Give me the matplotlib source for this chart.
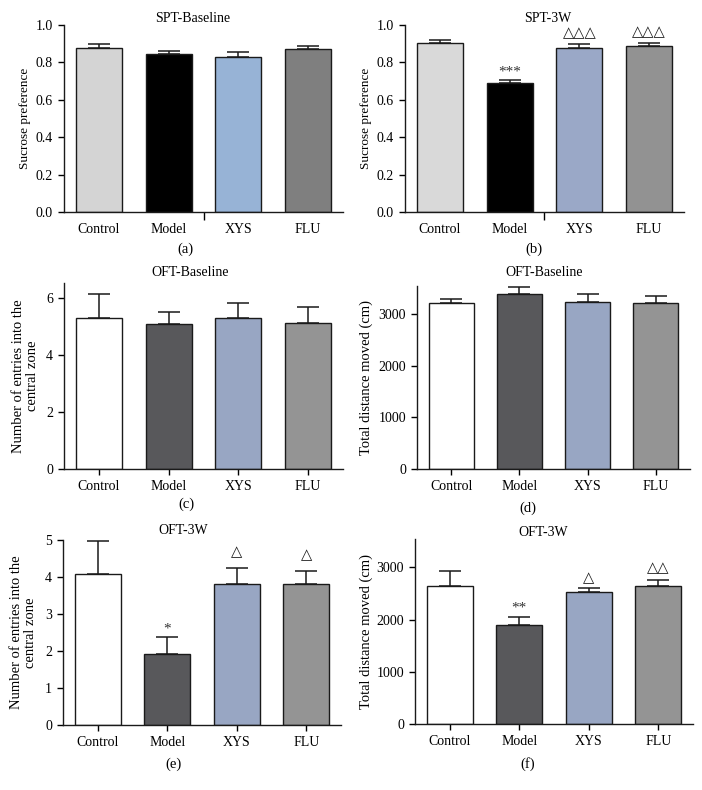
import matplotlib
matplotlib.use("Agg")
import matplotlib.pyplot as plt

plt.rcParams['font.family'] = ['Liberation Serif', 'DejaVu Sans']

W, H = 702, 790

groups = ["Control", "Model", "XYS", "FLU"]

# panel a
spt_base_mean = [0.876, 0.843, 0.831, 0.870]
spt_base_err = [0.021, 0.018, 0.023, 0.016]
# panel b
spt_3w_mean = [0.904, 0.692, 0.879, 0.890]
spt_3w_err = [0.014, 0.016, 0.018, 0.014]
spt_3w_marks = ["", "***", "△△△", "△△△"]
# panel c
oft_base_entries_mean = [5.31, 5.09, 5.31, 5.14]
oft_base_entries_err = [0.84, 0.43, 0.53, 0.53]
# panel d
oft_base_dist_mean = [3226, 3394, 3245, 3226]
oft_base_dist_err = [78, 129, 142, 135]
# panel e
oft_3w_entries_mean = [4.07, 1.93, 3.80, 3.80]
oft_3w_entries_err = [0.91, 0.46, 0.45, 0.37]
oft_3w_entries_marks = ["", "*", "△", "△"]
# panel f
oft_3w_dist_mean = [2649, 1889, 2521, 2636]
oft_3w_dist_err = [274, 154, 77, 115]
oft_3w_dist_marks = ["", "**", "△", "△△"]

colors_a = ["#d4d4d4", "#000000", "#97b3d6", "#7f7f7f"]
colors_b = ["#d9d9d9", "#000000", "#9aa8c7", "#929292"]
colors_c = ["#ffffff", "#58585b", "#98a6c3", "#949494"]

fig = plt.figure(figsize=(W / 100, H / 100), dpi=100)


def add_ax(l, t, r, b):
    return fig.add_axes([l / W, 1 - b / H, (r - l) / W, (b - t) / H])


def panel(rect, means, errs, colors, ylim, yticks, yticklabels, ytick_fs,
          title, title_xy, ylabel, ylabel_px, ylabel_fs, letter, letter_xy,
          marks=None, mark_off=None, stray=False, xticks_on=True):
    ax = add_ax(*rect)
    x = list(range(len(groups)))
    ax.bar(x, means, width=0.66, color=colors, edgecolor="#1a1a1a",
           linewidth=1.0, zorder=2)
    ax.errorbar(x, means, yerr=[[0] * len(errs), errs], fmt="none",
                ecolor="#1a1a1a", elinewidth=1.1, capsize=8, capthick=1.1,
                zorder=1)
    ax.set_xlim(-0.5, 3.5)
    ax.set_ylim(*ylim)
    ax.set_yticks(yticks)
    ax.set_yticklabels(yticklabels, fontsize=ytick_fs)
    ax.set_xticks(x)
    ax.set_xticklabels(groups, fontsize=10)
    if xticks_on:
        ax.tick_params(axis="x", length=4, width=1, pad=4)
    else:
        ax.tick_params(axis="x", length=0, pad=8)
    if stray:
        ax.set_xticks([1.5], minor=True)
        ax.tick_params(axis="x", which="minor", length=6, width=1)
    ax.tick_params(axis="y", length=4, width=1, pad=4)
    for s in ["top", "right"]:
        ax.spines[s].set_visible(False)
    for s in ["left", "bottom"]:
        ax.spines[s].set_linewidth(1.0)
        ax.spines[s].set_color("#1a1a1a")
    fig.text(title_xy[0] / W, 1 - title_xy[1] / H, title, ha="center",
             va="center", fontsize=10)
    ax.set_ylabel(ylabel, fontsize=ylabel_fs, linespacing=1.1, va="center")
    ax.yaxis.set_label_coords((ylabel_px - rect[0]) / (rect[2] - rect[0]),
                              0.5)
    if marks:
        for i, m in enumerate(marks):
            if m:
                off = mark_off[i]
                ax.annotate(m, (i, means[i] + errs[i]), xytext=(0, off),
                            textcoords="offset points", ha="center",
                            va="bottom", fontsize=10.5 if "△" in m else 11,
                            color="#333333" if "*" in m else "#1a1a1a")
    fig.text(letter_xy[0] / W, 1 - letter_xy[1] / H, letter, ha="center",
             va="center", fontsize=10.5)
    return ax


ticks_spt = [0, 0.2, 0.4, 0.6, 0.8, 1.0]
labels_spt = ["0.0", "0.2", "0.4", "0.6", "0.8", "1.0"]

# (a)
panel((64, 25, 343, 212), spt_base_mean, spt_base_err, colors_a, (0, 1.0),
      ticks_spt, labels_spt, 10, "SPT-Baseline", (193, 19),
      "Sucrose preference", 25, 9.5, "(a)", (185, 249),
      stray=True, xticks_on=False)
# (b)
panel((405, 25, 684, 212), spt_3w_mean, spt_3w_err, colors_b, (0, 1.0),
      ticks_spt, labels_spt, 10, "SPT-3W", (548, 19),
      "Sucrose preference", 366, 9.5, "(b)", (534, 249),
      marks=spt_3w_marks, mark_off=[0, 1, 3, 3], stray=True, xticks_on=False)
# (c)
panel((64, 283, 343, 469), oft_base_entries_mean, oft_base_entries_err,
      colors_c, (0, 6.53), [0, 2, 4, 6], ["0", "2", "4", "6"], 10,
      "OFT-Baseline", (190, 273),
      "Number of entries into the\ncentral zone", 25.5, 10.5, "(c)",
      (186, 504))
# (d)
panel((417, 286, 690, 469), oft_base_dist_mean, oft_base_dist_err, colors_c,
      (0, 3549), [0, 1000, 2000, 3000], ["0", "1000", "2000", "3000"], 10,
      "OFT-Baseline", (544, 273),
      "Total distance moved (cm)", 366, 10.5, "(d)", (528, 508))
# (e)
panel((63, 540, 341, 725), oft_3w_entries_mean, oft_3w_entries_err, colors_c,
      (0, 5), [0, 1, 2, 3, 4, 5], ["0", "1", "2", "3", "4", "5"], 10,
      "OFT-3W", (183, 531),
      "Number of entries into the\ncentral zone", 23.5, 10.5, "(e)",
      (174, 764), marks=oft_3w_entries_marks, mark_off=[0, 1, 6, 6])
# (f)
panel((415, 539, 693, 724), oft_3w_dist_mean, oft_3w_dist_err, colors_c,
      (0, 3544), [0, 1000, 2000, 3000], ["0", "1000", "2000", "3000"], 10,
      "OFT-3W", (543, 533),
      "Total distance moved (cm)", 366, 10.5, "(f)", (528, 764),
      marks=oft_3w_dist_marks, mark_off=[0, 2, 2, 4])

fig.savefig("out.png", dpi=100)
